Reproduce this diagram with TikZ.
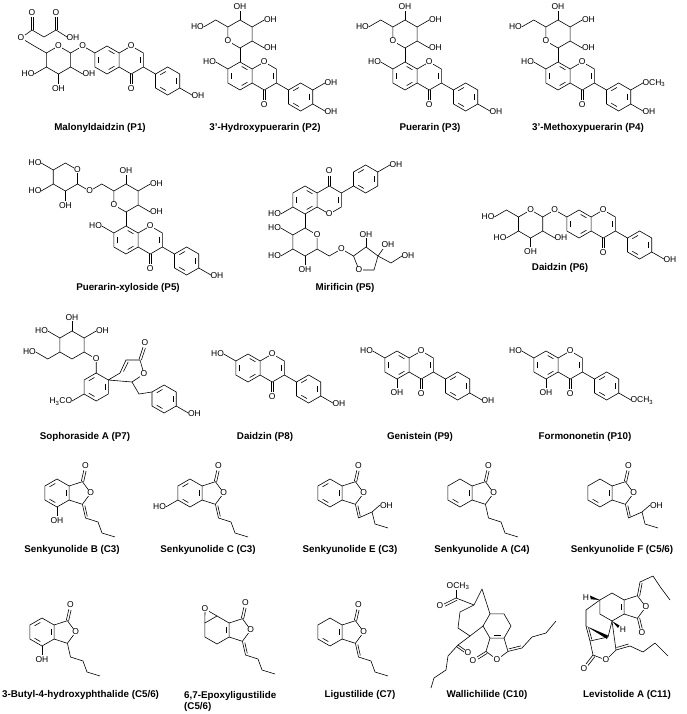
\documentclass[tikz,border=0pt]{standalone}
\usepackage{fontspec}
\setmainfont{Liberation Sans}
\usetikzlibrary{calc}
\tikzset{bd/.style={line width=0.6pt,line join=round},
 atm/.style={font=\fontsize{8.5}{9}\selectfont,inner sep=0.4pt},
 atw/.style={atm,fill=white},
 lab/.style={font=\bfseries\fontsize{9.8}{11}\selectfont,align=left,inner sep=0pt}}
\newcommand\hexg[2]{\draw[bd,shift={(#1,#2)}] (30:14)--(90:14)--(150:14)--(210:14)--(270:14)--(330:14)--cycle;}
\newcommand\inl[4]{\draw[bd,shorten <=2pt,shorten >=2pt,shift={(#1,#2)}] (#3:10.5)--(#4:10.5);}
\newcommand\isofl[4]{\begin{scope}[shift={(#1,#2)}]
\hexg{0}{0}
\inl{0}{0}{150}{210}\inl{0}{0}{270}{330}\inl{0}{0}{30}{90}
\draw[bd] (12.12,-7)--(24.25,-14)--(36.37,-7)--(36.37,7)--(24.25,14)--(12.12,7);
\inl{24.25}{0}{330}{30}
\draw[bd] (36.37,7)--(48.5,14);
\hexg{60.62}{21}
\inl{60.62}{21}{210}{270}\inl{60.62}{21}{330}{30}\inl{60.62}{21}{90}{150}
\draw[bd] (72.75,28)--(84.9,35);
\draw[bd] (23,14)--(23,24) (25.5,14)--(25.5,24);
\node[atw] at (24.25,-14) {O};
\node[atm] at (24.25,29) {O};
\node[atm,anchor=west] at (84,35.5) {#3};
#4
\end{scope}}
\newcommand\pueS{%
\draw[bd] (0,-14)--(0,-28);
\hexg{0}{-42}
\node[atw] at (-12.12,-35) {O};
\draw[bd] (12.12,-35)--(24.25,-28); \node[atm,anchor=west] at (23.5,-28) {OH};
\draw[bd] (12.12,-49)--(24.25,-56); \node[atm,anchor=west] at (23.5,-56) {OH};
\draw[bd] (0,-56)--(0,-65); \node[atm,anchor=south] at (0,-65.5) {OH};
\draw[bd] (-12.12,-7)--(-24.25,-14); \node[atm,anchor=east] at (-23.5,-14) {HO};}
\newcommand\phc[3]{\begin{scope}[shift={(#1,#2)}]
\hexg{0}{0}
\draw[bd] (12.12,-7)--(25.4,-11.3)--(33.7,0)--(25.4,11.3)--(12.12,7);
\draw[bd] (24.3,-11.6)--(26.8,-22.6) (26.6,-11.0)--(29.1,-22.0);
\node[atm] at (28.4,-27.5) {O};
\node[atw] at (33.7,0) {O};
#3
\end{scope}}
\newcommand\exo{\draw[bd] (25.4,11.3)--(28.5,25) (27.8,12.5)--(30.3,23.4);}
\newcommand\butyl{\draw[bd] (28.5,25)--(41,29)--(45,40)--(58,44);}
\newcommand\hobut{\draw[bd] (28.5,25)--(42,19)--(50,12); \node[atm,anchor=west] at (49.5,12.5) {OH};
\draw[bd] (42,19)--(45,31)--(58,35);}
\newcommand\arom{\inl{0}{0}{210}{270}\inl{0}{0}{330}{30}\inl{0}{0}{90}{150}}
\begin{document}
\begin{tikzpicture}[x=1pt,y=-1pt]
\useasboundingbox (0,0) rectangle (687,714);
% ---------- P1
\isofl{107}{60}{OH}{\draw[bd] (-12.12,-7)--(-24.25,-14)--(-36.4,-7); \node[atw] at (-24.25,-14) {O};}
\hexg{58.5}{60}
\node[atw] at (58.5,46) {O};
\draw[bd] (46.4,67)--(34.3,74); \node[atm,anchor=east] at (35,74) {HO};
\draw[bd] (58.5,74)--(58.5,84); \node[atm,anchor=north] at (58.5,84.5) {OH};
\draw[bd] (70.6,67)--(82.7,74); \node[atm,anchor=west] at (82,74) {OH};
\draw[bd] (46.4,53)--(34.3,46)--(21,38)--(32,30)--(44,37)--(56,30)--(67,37);
\node[atw] at (21,38) {O};
\draw[bd] (30.8,30)--(30.8,17) (33.2,30)--(33.2,17); \node[atm] at (32,12.5) {O};
\draw[bd] (54.8,30)--(54.8,17) (57.2,30)--(57.2,17); \node[atm] at (56,12.5) {O};
\node[atm,anchor=west] at (66,37.5) {OH};
\node[lab] at (100,128) {Malonyldaidzin (P1)};
% ---------- P2
\isofl{240}{76}{OH}{\pueS \draw[bd] (-12.12,-49)--(-24.25,-56)--(-36.4,-49); \node[atm,anchor=east] at (-35.6,-49) {HO};
\draw[bd] (72.75,14)--(84.9,7); \node[atm,anchor=west] at (84,7) {OH};}
\node[lab] at (265,128) {3'-Hydroxypuerarin (P2)};
% ---------- P3
\isofl{405}{76}{OH}{\pueS \draw[bd] (-12.12,-49)--(-24.25,-56)--(-36.4,-49); \node[atm,anchor=east] at (-35.6,-49) {HO};}
\node[lab] at (430,128) {Puerarin (P3)};
% ---------- P4
\isofl{558}{76}{OH}{\pueS \draw[bd] (-12.12,-49)--(-24.25,-56)--(-36.4,-49); \node[atm,anchor=east] at (-35.6,-49) {HO};
\draw[bd] (72.75,14)--(84.9,7); \node[atm,anchor=west] at (84,7) {OCH\textsubscript{3}};}
\node[lab] at (588,128) {3'-Methoxypuerarin (P4)};
% ---------- P5 xyloside
\isofl{126}{240}{OH}{\pueS \draw[bd] (-12.12,-49)--(-24.25,-56)--(-36.4,-49)--(-48.5,-56);
\node[atw] at (-36.4,-49) {O};
\hexg{-60.6}{-63}
\node[atw] at (-48.5,-70) {O};
\draw[bd] (-72.7,-70)--(-84.8,-77); \node[atm,anchor=east] at (-84,-77) {HO};
\draw[bd] (-72.7,-56)--(-84.8,-49); \node[atm,anchor=east] at (-84,-49) {HO};
\draw[bd] (-60.6,-49)--(-60.6,-39); \node[atm,anchor=north] at (-60.6,-38.5) {OH};}
\node[lab] at (128,288) {Puerarin-xyloside (P5)};
% ---------- Mirificin
\begin{scope}[shift={(305,200)},yscale=-1]
\isofl{0}{0}{OH}{\draw[bd] (-12.12,-7)--(-24.25,-14); \node[atm,anchor=east] at (-23.5,-14) {HO};}
\end{scope}
\draw[bd] (305,214)--(305,228);
\hexg{305}{242}
\node[atw] at (317.1,235) {O};
\draw[bd] (317.1,249)--(329.2,256)--(341.4,249)--(353.5,256);
\node[atw] at (341.4,249) {O};
\draw[bd] (305,256)--(305,265); \node[atm,anchor=north] at (305,265.5) {OH};
\draw[bd] (292.9,249)--(280.8,256); \node[atm,anchor=east] at (281.5,256) {HO};
\draw[bd] (292.9,235)--(280.8,228); \node[atm,anchor=east] at (281.5,228) {HO};
\draw[bd] (353.5,256)--(366,247)--(378,256)--(374,270)--(359,270)--cycle;
\node[atw] at (359,270) {O};
\draw[bd] (366,247)--(366,238); \node[atm,anchor=south] at (366,238.5) {OH};
\draw[bd] (378,256)--(383,249); \node[atm,anchor=south west] at (381,248) {OH};
\draw[bd] (378,256)--(391,263)--(402,256); \node[atm,anchor=west] at (401,256) {OH};
\node[lab] at (345,288) {Mirificin (P5)};
% ---------- P6 Daidzin
\isofl{579}{224}{OH}{\draw[bd] (-12.12,-7)--(-24.25,-14)--(-36.4,-7); \node[atw] at (-24.25,-14) {O};}
\hexg{530.6}{224}
\node[atw] at (530.6,210) {O};
\draw[bd] (518.5,217)--(506.4,210)--(494.3,217); \node[atm,anchor=east] at (495,217) {HO};
\draw[bd] (518.5,231)--(506.4,238); \node[atm,anchor=east] at (507,238) {HO};
\draw[bd] (530.6,238)--(530.6,247); \node[atm,anchor=north] at (530.6,247.5) {OH};
\draw[bd] (542.7,231)--(554.8,238); \node[atm,anchor=west] at (554,238) {OH};
\node[lab] at (560,268) {Daidzin (P6)};
% ---------- P7 Sophoraside A
\hexg{72}{345}
\draw[bd] (72,331)--(72,321); \node[atm,anchor=south] at (72,321.5) {OH};
\draw[bd] (59.9,338)--(47.8,331); \node[atm,anchor=east] at (48.5,331) {HO};
\draw[bd] (84.1,338)--(96.2,331); \node[atm,anchor=west] at (95.5,331) {OH};
\draw[bd] (59.9,352)--(47.8,359)--(35.7,352); \node[atm,anchor=east] at (36.4,352) {HO};
\draw[bd] (84.1,352)--(96.2,359)--(96.2,373); \node[atw] at (96.2,359) {O};
\hexg{96.2}{387}
\inl{96.2}{387}{210}{270}\inl{96.2}{387}{330}{30}\inl{96.2}{387}{90}{150}
\draw[bd] (84.1,394)--(72,401); \node[atm,anchor=east] at (72.8,401.5) {H\textsubscript{3}CO};
\draw[bd] (108.3,380)--(120,373)--(126,360)--(140,360)--(144,374)--(132,382)--cycle;
\draw[bd] (123.5,371.5)--(128.2,362);
\draw[bd] (139,359.3)--(143,347.3) (141.4,360)--(145.4,348); \node[atm] at (145,343) {O};
\node[atw] at (144,374) {O};
\draw[bd] (132,382)--(139,394)--(152,392);
\hexg{164.1}{399}
\inl{164.1}{399}{210}{270}\inl{164.1}{399}{330}{30}\inl{164.1}{399}{90}{150}
\draw[bd] (176.2,406)--(188.3,413); \node[atm,anchor=west] at (187.5,413.5) {OH};
\node[lab] at (85,437) {Sophoraside A (P7)};
% ---------- P8 P9 P10
\isofl{248}{368}{OH}{\draw[bd] (-12.12,-7)--(-24.25,-14); \node[atm,anchor=east] at (-23.5,-14) {HO};}
\node[lab] at (265,437) {Daidzin (P8)};
\isofl{397}{365}{OH}{\draw[bd] (-12.12,-7)--(-24.25,-14); \node[atm,anchor=east] at (-23.5,-14) {HO};
\draw[bd] (0,14)--(0,23); \node[atm,anchor=north] at (0,23.5) {OH};}
\node[lab] at (420,437) {Genistein (P9)};
\isofl{546}{365}{OCH\textsubscript{3}}{\draw[bd] (-12.12,-7)--(-24.25,-14); \node[atm,anchor=east] at (-23.5,-14) {HO};
\draw[bd] (0,14)--(0,23); \node[atm,anchor=north] at (0,23.5) {OH};}
\node[lab] at (585,437) {Formononetin (P10)};
% ---------- Row 4
\phc{57}{493}{\arom\exo\butyl \draw[bd] (0,14)--(0,23); \node[atm,anchor=north] at (0,23.5) {OH};}
\node[lab] at (72,550) {Senkyunolide B (C3)};
\phc{190}{493}{\arom\exo\butyl \draw[bd] (-12.12,7)--(-24.25,14); \node[atm,anchor=east] at (-23.5,14) {HO};}
\node[lab] at (208,550) {Senkyunolide C (C3)};
\phc{330}{493}{\arom\exo\hobut}
\node[lab] at (350,550) {Senkyunolide E (C3)};
\phc{460}{493}{\inl{0}{0}{330}{30}\inl{0}{0}{90}{150}\draw[bd] (25.4,11.3)--(28.5,25)--(41,29)--(45,40)--(58,44);}
\node[lab] at (482,550) {Senkyunolide A (C4)};
\phc{600}{493}{\inl{0}{0}{330}{30}\inl{0}{0}{90}{150}\exo\hobut}
\node[lab] at (622,550) {Senkyunolide F (C5/6)};
% ---------- Row 5
\phc{42}{632}{\arom\draw[bd] (25.4,11.3)--(28.5,25)--(41,29)--(45,40)--(58,44); \draw[bd] (0,14)--(0,23); \node[atm,anchor=north] at (0,23.5) {OH};}
\node[lab,anchor=west] at (2,695) {3-Butyl-4-hydroxyphthalide (C5/6)};
\phc{217}{630}{\inl{0}{0}{330}{30}\exo\butyl \draw[bd] (-12.12,-7)--(-12,-21)--(0,-14); \node[atw] at (-12,-21) {O};}
\node[lab,anchor=west] at (184,701) {6,7-Epoxyligustilide\\(C5/6)};
\phc{330}{632}{\inl{0}{0}{330}{30}\inl{0}{0}{90}{150}\exo\butyl}
\node[lab] at (360,695) {Ligustilide (C7)};
% ---------- Wallichilide
\draw[bd] (511,626)--(504,638.1)--(490,638.1)--(483,626)--(490,613.9)--(504,613.9)--cycle;
\draw[bd] (490,638.1)--(486,651.4)--(497,659.6)--(508,651.4)--(504,638.1);
\draw[bd,shorten <=2pt,shorten >=2pt] (491.5,635)--(502.5,635);
\node[atw] at (497,659.6) {O};
\draw[bd] (486,651.4)--(477,657) (487.2,653.4)--(478.2,659); \node[atm] at (473,660.5) {O};
\draw[bd] (508,651.4)--(522,648) (508.6,648.9)--(520.8,645.9);
\draw[bd] (522,648)--(532,637)--(546,633)--(556,621);
\draw[bd] (490,613.9)--(482,589)--(474,605)--(460,612)--(458,628)--(470,636)--(483,626);
\draw[bd] (474,605)--(456,598);
\draw[bd] (456,598)--(444,604) (457,600.2)--(445,606.2); \node[atm] at (440,606) {O};
\draw[bd] (456,598)--(456,590); \node[atm,anchor=south] at (458,590.5) {OCH\textsubscript{3}};
\draw[bd] (470,636)--(458,645);
\draw[bd] (458,645)--(465,650) (457,647)--(464,652); \node[atm] at (468,653) {O};
\draw[bd] (458,645)--(448,656)--(446,670)--(434,678)--(431,688);
\node[lab] at (487,695) {Wallichilide (C10)};
% ---------- Levistolide A
\hexg{612}{607}
\inl{612}{607}{330}{30}
\draw[bd] (624.1,600)--(637.4,595.7)--(645.8,607)--(637.4,618.3)--(624.1,614);
\node[atw] at (645.8,607) {O};
\draw[bd] (637.4,618.3)--(640,629) (639.6,617.8)--(642.2,628.5); \node[atm] at (642,633) {O};
\draw[bd] (637.4,595.7)--(640,582) (639.6,596.3)--(642.1,583.2);
\draw[bd] (640,582)--(653,576)--(661,588)--(670,600);
\fill (599.9,600)--(590,595.5)--(590.8,599.3)--cycle; \node[atm] at (586,598) {H};
\fill (612,621)--(619.5,625.5)--(618,628)--cycle; \node[atm] at (623,630) {H};
\draw[bd] (599.9,600)--(586,610)--(586,626);
\draw[bd] (586,626)--(590,641) (588.6,627.8)--(591.8,639.4);
\fill (586,626)--(608,635.5)--(607,639)--cycle;
\draw[bd] (612,621)--(608,637)--(590,641)--(593,655)--(606,660)--(616,650)--cycle;
\node[atw] at (606,660) {O};
\draw[bd] (593,655)--(586,664) (595,656.5)--(588,665.5); \node[atm] at (584,669) {O};
\draw[bd] (616,650)--(630,646) (616.5,647.5)--(628.5,644);
\draw[bd] (630,646)--(643,652)--(655,643)--(668,656);
\node[lab] at (627,695) {Levistolide A (C11)};
\end{tikzpicture}
\end{document}
